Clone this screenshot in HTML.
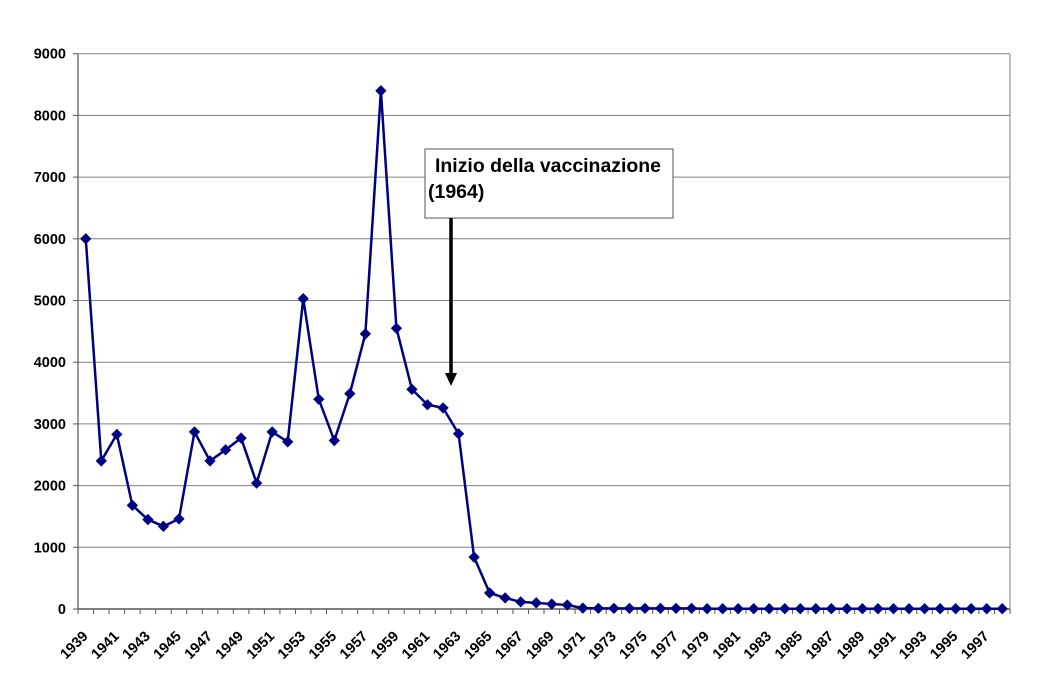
<!DOCTYPE html>
<html><head><meta charset="utf-8"><style>
html,body{margin:0;padding:0;background:#fff;}
svg{display:block;font-family:"Liberation Sans",Arial,sans-serif;}
</style></head><body>
<svg id="s" width="1043" height="681" xmlns="http://www.w3.org/2000/svg"></svg>
<script>
const s=document.getElementById('s');
const vals=[6000,2400,2830,1680,1450,1340,1460,2870,2400,2580,2770,2040,2870,2710,5030,3400,2730,3490,4460,8400,4550,3560,3310,3260,2840,840,260,180,115,100,80,65,15,10,10,10,10,10,10,10,5,5,5,5,5,5,5,5,5,5,5,5,5,5,5,5,5,5,5,5];
const L=78,R=1010,Y0=609,k=0.0617,step=(R-L)/60;
let h='';
for(let i=0;i<=9;i++){const y=Y0-i*1000*k;
 if(i>0)h+=`<line x1="${L}" y1="${y}" x2="${R}" y2="${y}" stroke="#808080" stroke-width="1"/>`;
 h+=`<line x1="${L-5}" y1="${y}" x2="${L}" y2="${y}" stroke="#555"/>`;
 h+=`<text x="${L-12}" y="${y+5}" text-anchor="end" font-size="14.5" font-weight="bold">${i*1000}</text>`;}
h+=`<line x1="${L}" y1="${Y0-9000*k}" x2="${L}" y2="${Y0}" stroke="#555" stroke-width="1.2"/>`;
h+=`<line x1="${R}" y1="${Y0-9000*k}" x2="${R}" y2="${Y0}" stroke="#808080" stroke-width="1"/>`;
h+=`<line x1="${L}" y1="${Y0}" x2="${R}" y2="${Y0}" stroke="#555" stroke-width="1.5"/>`;
for(let i=0;i<=60;i++){const x=L+i*step;h+=`<line x1="${x}" y1="${Y0}" x2="${x}" y2="${Y0+5}" stroke="#555"/>`;}
for(let i=0;i<60;i+=2){const x=L+(i+0.5)*step;
 h+=`<text transform="translate(${x+3},${Y0+28}) rotate(-45)" text-anchor="end" font-size="14.5" font-weight="bold">${1939+i}</text>`;}
let pts=vals.map((v,i)=>[L+(i+0.5)*step,Y0-v*k]);
h+=`<polyline fill="none" stroke="#000080" stroke-width="2.5" points="${pts.map(p=>p.join(',')).join(' ')}"/>`;
pts.forEach(p=>{h+=`<rect x="${p[0]-4}" y="${p[1]-4}" width="8" height="8" fill="#000080" transform="rotate(45 ${p[0]} ${p[1]})"/>`;});
h+=`<rect x="425" y="149" width="248" height="69" fill="#fff" stroke="#555" stroke-width="1"/>`;
h+=`<text x="435" y="172" font-size="19.5" font-weight="bold" textLength="226" lengthAdjust="spacingAndGlyphs">Inizio della vaccinazione</text>`;
h+=`<text x="428" y="198" font-size="19.5" font-weight="bold">(1964)</text>`;
h+=`<line x1="451" y1="218" x2="451" y2="376" stroke="#000" stroke-width="3.5"/>`;
h+=`<polygon points="445,373 457,373 451,386" fill="#000"/>`;
s.innerHTML=h;
</script>
</body></html>
